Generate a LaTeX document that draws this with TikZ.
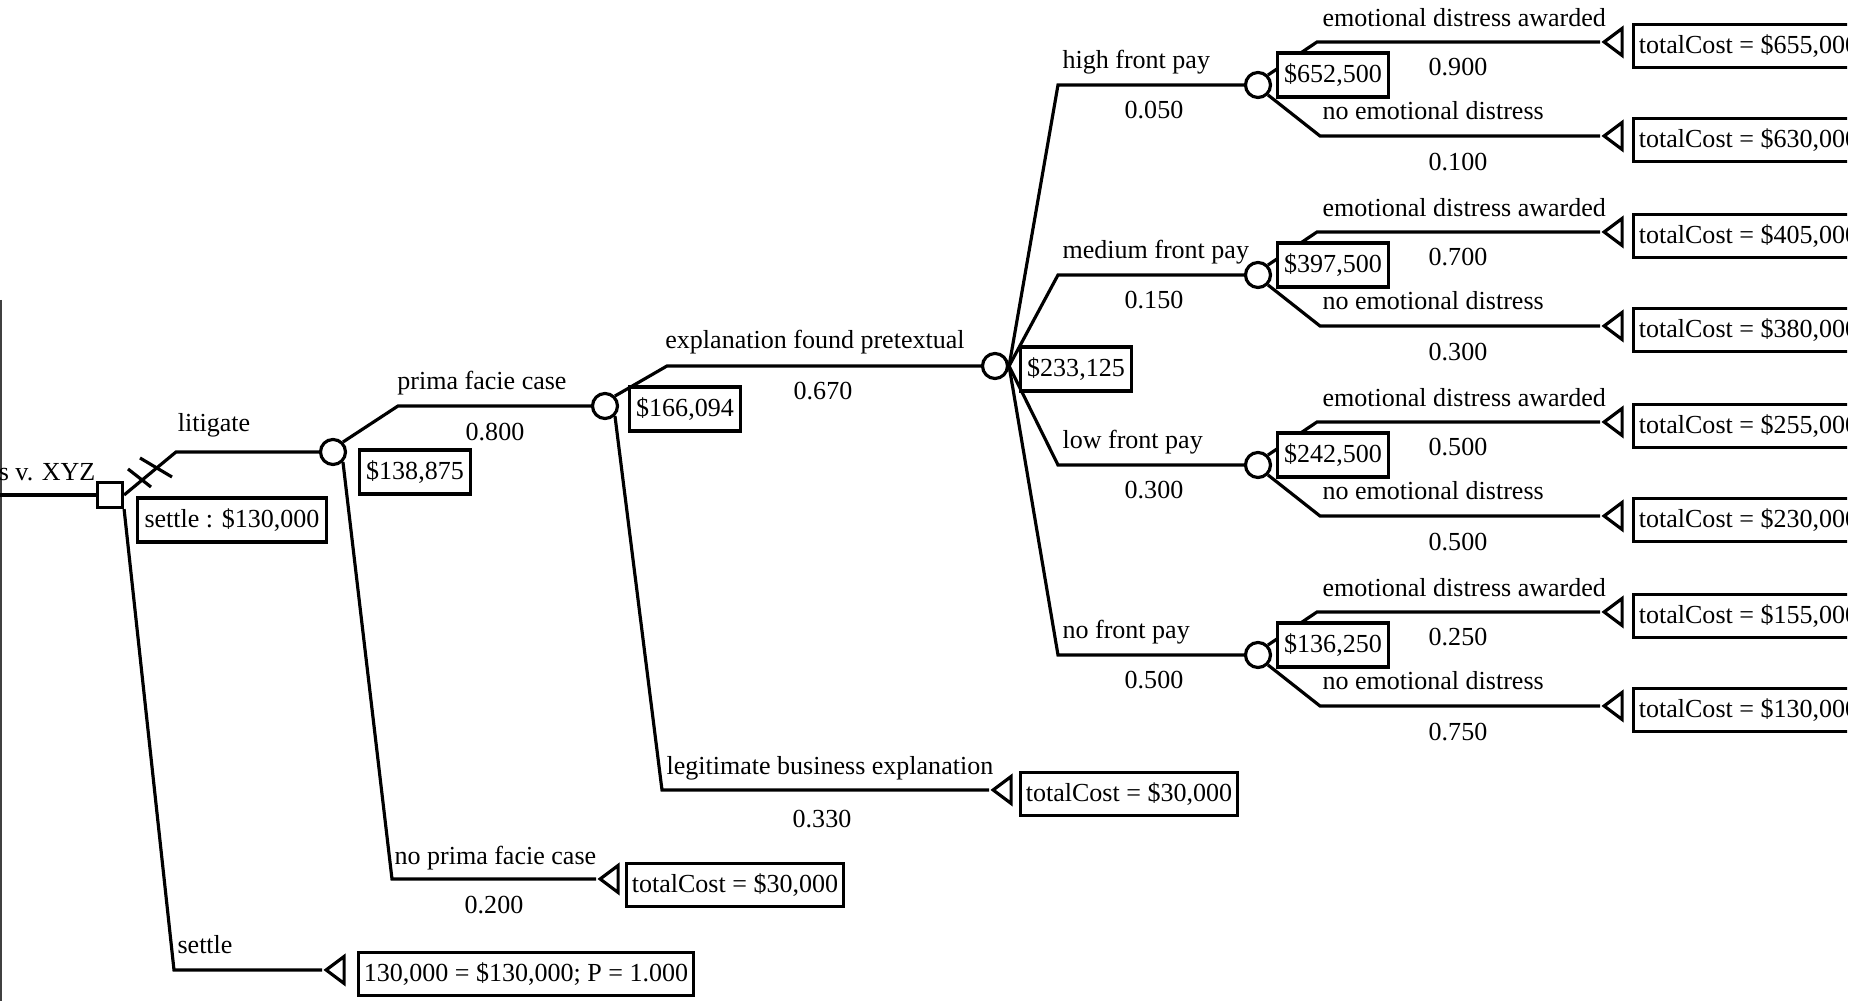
\documentclass[tikz,border=0pt]{standalone}
\usepackage{fontspec}
\setmainfont{Liberation Serif}
\usetikzlibrary{shapes.geometric}

\tikzset{
  every node/.style={font=\fontsize{7.4}{8.5}\selectfont},
  lbl/.style={inner sep=0pt},
  chance/.style={circle, draw, fill=white, minimum size=0.25cm, inner sep=0pt},
  decision/.style={rectangle, draw, fill=white, minimum size=0.25cm, inner sep=0pt},
  valbox/.style={draw, fill=white, inner xsep=2pt, inner ysep=0pt, minimum height=0.44cm},
  endbox/.style={draw, fill=white, inner xsep=1.5pt, inner ysep=0pt, minimum height=0.43cm, anchor=west},
  term/.style={isosceles triangle, isosceles triangle stretches, shape border rotate=180,
    draw, fill=white, minimum width=0.27cm, minimum height=0.18cm, inner sep=0pt, anchor=apex}
}

\begin{document}
\begin{tikzpicture}[x=0.01cm, y=-0.01cm, line width=0.9pt]
  \useasboundingbox (0,0) rectangle (1868,1001);
  \clip (0,0) rectangle (1847,1001);
  \draw[line width=0.5pt, black!75] (1,300) -- (1,1001);

  \node[lbl, anchor=east] (title) at (97,472) {s v. XYZ};
  \node[decision] (dec) at (110,495) {};
  \coordinate (start) at (0,495);
  \draw (start) -- (dec);

  \node[chance] (c1) at (333,452) {};
  \coordinate (k1) at (176,452);
  \draw (dec.east) -- (k1) -- (c1);
  \draw (128,469) -- (151,487) (140,458) -- (172,477);
  \node[lbl] (litlbl) at (214,425) {litigate};
  \node[valbox] (setval) at (232,520) {settle : \$130,000};

  \coordinate (k2) at (174,970);
  \node[term] (t0) at (322,970) {};
  \draw (dec.south east) -- (k2) -- (t0.apex);
  \node[lbl, anchor=west] (setlbl) at (176,945) {settle};
  \node[endbox] (r0) at (357,974) {130,000 = \$130,000; P = 1.000};

  \node[chance] (c2) at (605,406) {};
  \coordinate (k3) at (398,406);
  \draw (c1.north east) -- (k3) -- (c2);
  \node[lbl] (pfc) at (482,383) {prima facie case};
  \node[lbl] (p1) at (495,432) {0.800};
  \coordinate (k4) at (392,879);
  \node[term] (t1) at (596,879) {};
  \draw (c1.south east) -- (k4) -- (t1.apex);
  \node[lbl, anchor=west] (npfc) at (393,858) {no prima facie case};
  \node[lbl] (p2) at (494,905) {0.200};
  \node[endbox] (r1) at (625,885) {totalCost = \$30,000};
  \node[valbox] (v1) at (415,472) {\$138,875};

  \node[chance] (c3) at (995,366) {};
  \coordinate (k5) at (667,366);
  \draw (c2.north east) -- (k5) -- (c3);
  \node[lbl] (efp) at (815,342) {explanation found pretextual};
  \node[lbl] (p3) at (823,391) {0.670};
  \coordinate (k6) at (662,790);
  \node[term] (t2) at (989,790) {};
  \draw (c2.south east) -- (k6) -- (t2.apex);
  \node[lbl, anchor=west] (lbe) at (665,768) {legitimate business explanation};
  \node[lbl] (p4) at (822,819) {0.330};
  \node[endbox] (r2) at (1019,794) {totalCost = \$30,000};
  \node[valbox] (v2) at (685,409) {\$166,094};

  \foreach \i/\y/\lab/\pr/\val/\pa/\pb/\ca/\cb in {
      1/85/high front pay/0.050/{\$652,500}/0.900/0.100/655/630,
      2/275/medium front pay/0.150/{\$397,500}/0.700/0.300/405/380,
      3/465/low front pay/0.300/{\$242,500}/0.500/0.500/255/230,
      4/655/no front pay/0.500/{\$136,250}/0.250/0.750/155/130}{
    \node[chance] (d\i) at (1258,\y) {};
    \coordinate (b\i) at (1058,\y);
    \draw (c3.east) -- (b\i) -- (d\i);
    \node[lbl, anchor=west] (n\i) at (1061,\y-23) {\lab};
    \node[lbl] (q\i) at (1154,\y+25) {\pr};
    \coordinate (ua\i) at (1317,\y-43);
    \coordinate (la\i) at (1320,\y+51);
    \node[term] (ta\i) at (1600,\y-43) {};
    \node[term] (tb\i) at (1600,\y+51) {};
    \draw (d\i.north east) -- (ua\i) -- (ta\i.apex);
    \draw (d\i.south east) -- (la\i) -- (tb\i.apex);
    \node[lbl, anchor=west] (ea\i) at (1321,\y-67) {emotional distress awarded};
    \node[lbl] (pa\i) at (1458,\y-18) {\pa};
    \node[lbl, anchor=west] (eb\i) at (1321,\y+26) {no emotional distress};
    \node[lbl] (pb\i) at (1458,\y+77) {\pb};
    \node[endbox] (ra\i) at (1632,\y-39) {totalCost = \$\ca,000};
    \node[endbox] (rb\i) at (1632,\y+55) {totalCost = \$\cb,000};
    \node[valbox] (v\i) at (1333,\y-10) {\val};
  }
  \node[valbox] (v0) at (1076,369) {\$233,125};
\end{tikzpicture}
\end{document}
